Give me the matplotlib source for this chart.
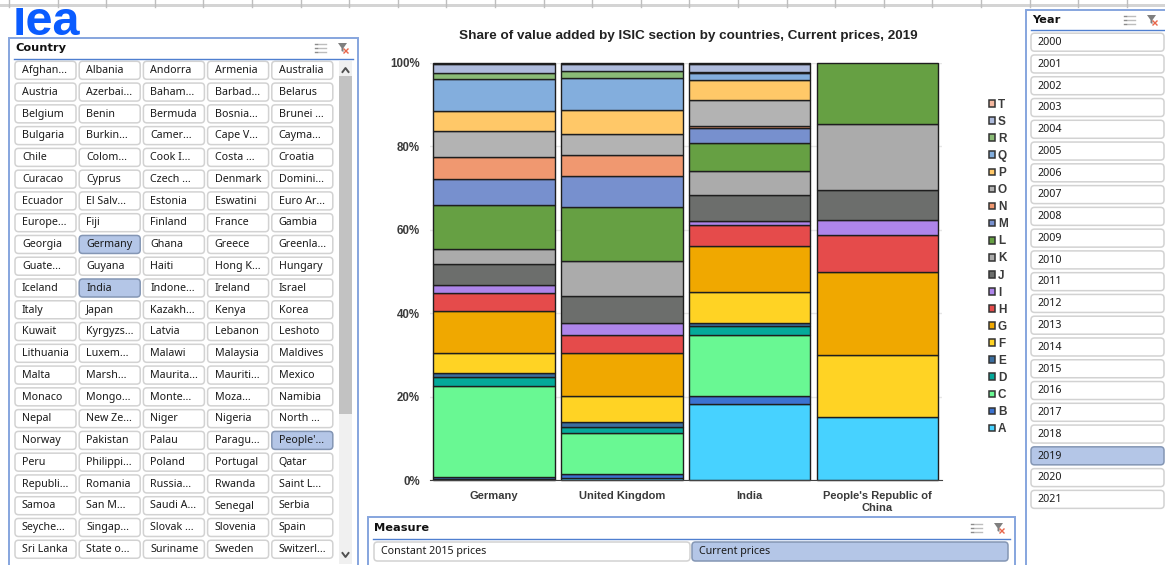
import matplotlib
matplotlib.use("Agg")
import matplotlib.pyplot as plt
from matplotlib.patches import FancyBboxPatch, Rectangle, Patch, Polygon
from matplotlib.ticker import PercentFormatter
import numpy as np

# ---- chart data: share of value added (%) by ISIC section, 2019 ----
chart_title = "Share of value added by ISIC section by countries, Current prices, 2019"
bar_labels = ["Germany", "United Kingdom", "India", "People's Republic of\nChina"]
sections = list("ABCDEFGHIJKLMNOPQRST")
A = [0.4, 0.55, 18.3, 15.2]
B = [0.3, 0.95, 1.9, 0]
C = [21.9, 9.8, 14.6, 0]
D = [2.1, 1.5, 2.1, 0]
E = [0.9, 1.2, 0.8, 0]
F = [5.0, 6.1, 7.3, 14.7]
G = [10.0, 10.4, 11.2, 19.9]
H = [4.3, 4.4, 4.9, 8.9]
I = [1.9, 2.8, 1.0, 3.7]
J = [4.9, 6.4, 6.1, 7.0]
K = [3.7, 8.3, 5.8, 15.9]
L = [10.5, 13.0, 6.8, 14.6]
M = [6.3, 7.5, 3.6, 0]
N = [5.3, 5.1, 0.4, 0]
O = [6.1, 4.9, 6.3, 0]
P = [4.9, 5.8, 4.7, 0]
Q = [7.6, 7.7, 1.8, 0]
R = [1.35, 1.6, 0.2, 0]
S = [2.15, 1.6, 1.8, 0]
T = [0.4, 0.4, 0.4, 0]
section_values = [A, B, C, D, E, F, G, H, I, J, K, L, M, N, O, P, Q, R, S, T]
section_colors = ["#47D2FF", "#3B72D1", "#69F893", "#04A99A", "#3B6E9F", "#FFD324",
                  "#F0A800", "#E54B4B", "#AE85EA", "#6C6E6C", "#ABABAB", "#66A043",
                  "#7790CE", "#F09870", "#B3B3B3", "#FFC868", "#83AEDD", "#8ABB76",
                  "#AEBBDC", "#F5B8A0"]

# ---- slicer contents ----
countries = [
    ["Afghan...", "Albania", "Andorra", "Armenia", "Australia"],
    ["Austria", "Azerbai...", "Baham...", "Barbad...", "Belarus"],
    ["Belgium", "Benin", "Bermuda", "Bosnia...", "Brunei ..."],
    ["Bulgaria", "Burkin...", "Camer...", "Cape V...", "Cayma..."],
    ["Chile", "Colom...", "Cook I...", "Costa ...", "Croatia"],
    ["Curacao", "Cyprus", "Czech ...", "Denmark", "Domini..."],
    ["Ecuador", "El Salv...", "Estonia", "Eswatini", "Euro Ar..."],
    ["Europe...", "Fiji", "Finland", "France", "Gambia"],
    ["Georgia", "Germany", "Ghana", "Greece", "Greenla..."],
    ["Guate...", "Guyana", "Haiti", "Hong K...", "Hungary"],
    ["Iceland", "India", "Indone...", "Ireland", "Israel"],
    ["Italy", "Japan", "Kazakh...", "Kenya", "Korea"],
    ["Kuwait", "Kyrgyzs...", "Latvia", "Lebanon", "Leshoto"],
    ["Lithuania", "Luxem...", "Malawi", "Malaysia", "Maldives"],
    ["Malta", "Marsh...", "Maurita...", "Mauriti...", "Mexico"],
    ["Monaco", "Mongo...", "Monte...", "Moza...", "Namibia"],
    ["Nepal", "New Ze...", "Niger", "Nigeria", "North ..."],
    ["Norway", "Pakistan", "Palau", "Paragu...", "People'..."],
    ["Peru", "Philippi...", "Poland", "Portugal", "Qatar"],
    ["Republi...", "Romania", "Russia...", "Rwanda", "Saint L..."],
    ["Samoa", "San M...", "Saudi A...", "Senegal", "Serbia"],
    ["Seyche...", "Singap...", "Slovak ...", "Slovenia", "Spain"],
    ["Sri Lanka", "State o...", "Suriname", "Sweden", "Switzerl..."],
]
selected_countries = {"Germany", "India", "People'..."}
years = [str(y) for y in range(2000, 2022)]
selected_year = "2019"
measures = ["Constant 2015 prices", "Current prices"]
selected_measure = "Current prices"

W, H_PX = 1165, 565
fig = plt.figure(figsize=(W / 100, H_PX / 100), dpi=100, facecolor="white")

# Pixel-space layer for the dashboard furniture
ui = fig.add_axes([0, 0, 1, 1], zorder=0)
ui.set_xlim(0, W)
ui.set_ylim(H_PX, 0)
ui.axis("off")

UI_FONT = "Noto Sans"
PANEL = "#86A5DE"
RULE = "#4F7FD0"
SEL_FACE = "#B4C6E7"
SEL_EDGE = "#8496B4"


def button(x, y, w, h, label, selected=False):
    ui.add_patch(FancyBboxPatch((x + 2, y + 2), w - 4, h - 4,
                                boxstyle="round,pad=2,rounding_size=3.5",
                                fc=SEL_FACE if selected else "white",
                                ec=SEL_EDGE if selected else "#D2D2D2", lw=1.1))
    ui.text(x + 7, y + h / 2 + 0.3, label, fontsize=7.7, family=UI_FONT,
            color="#1A1A1A", va="center", ha="left")


def slicer_icons(x, y):
    # multi-select glyph
    for k in range(3):
        ui.plot([x + 3, x + 11], [y - 4 + k * 4] * 2, color="#BDBDBD", lw=1)
        ui.plot([x, x + 2], [y - 4 + k * 4] * 2, color="#8C8C8C", lw=1)
    # clear-filter funnel
    fx = x + 23
    ui.add_patch(Polygon([(fx, y - 5), (fx + 9, y - 5), (fx + 5.5, y), (fx + 5.5, y + 4), (fx + 3.5, y + 3), (fx + 3.5, y)],
                         closed=True, fc="#7F7F7F", ec="none"))
    ui.plot([fx + 6, fx + 10], [y + 1, y + 5], color="#E8664A", lw=1)
    ui.plot([fx + 6, fx + 10], [y + 5, y + 1], color="#E8664A", lw=1)


def panel(x0, y0, x1, y1, title, title_x, title_y, rule_y, rule_x0, rule_x1, icon_x):
    ui.add_patch(Rectangle((x0, y0), x1 - x0, y1 - y0, fc="white", ec=PANEL, lw=1.4))
    ui.plot([rule_x0, rule_x1], [rule_y, rule_y], color=RULE, lw=1)
    ui.text(title_x, title_y, title, fontsize=8.2, family="DejaVu Sans", weight="bold",
            color="#111111", va="center", ha="left")
    slicer_icons(icon_x, title_y)


# Organisation mark, its top cut off by the sheet edge
ui.text(13, 35, "lea", fontsize=35, family="Liberation Sans", weight="bold",
        color="#0A5CFF", va="baseline", ha="left", zorder=2)
ui.add_patch(Rectangle((0, 0), 120, 8, fc="white", ec="none", zorder=3))

# Sheet ruler along the top edge
ui.add_patch(Rectangle((0, 3.5), W, 3.5, fc="#D4D4D4", ec="none", zorder=4))
for tick_x in np.arange(9, W, 48.6):
    ui.plot([tick_x, tick_x], [0, 7], color="#BEBEBE", lw=1, zorder=5)

# Country slicer
panel(9, 38, 358, 575, "Country", 15, 48, 59, 14, 353, 315)
col_step, row_step = 64.2, 21.77
for r, row in enumerate(countries):
    for c, name in enumerate(row):
        button(15 + c * col_step, 61.3 + r * row_step, 61, 18, name, name in selected_countries)
ui.add_patch(Rectangle((339, 61), 13, 503, fc="#F0F0F0", ec="none"))
ui.add_patch(Rectangle((339, 76), 13, 338, fc="#C2C2C2", ec="none"))
ui.plot([342.5, 345.5, 348.5], [72, 68, 72], color="#505050", lw=1.4)
ui.plot([342.5, 345.5, 348.5], [553, 557, 553], color="#505050", lw=1.4)

# Year slicer
panel(1026, 10, 1175, 575, "Year", 1032, 20, 30, 1031, 1164, 1124)
for i, y in enumerate(years):
    button(1031, 33.2 + i * 21.77, 133, 18, y, y == selected_year)

# Measure slicer
panel(368, 517, 1015, 575, "Measure", 374, 528, 539, 373, 1010, 971)
button(374, 542, 316, 19, measures[0], measures[0] == selected_measure)
button(692, 542, 316, 19, measures[1], measures[1] == selected_measure)

# Stacked share chart
left, right, top, bottom = 429.5, 942.0, 62.7, 480.3
ax = fig.add_axes([left / W, 1 - bottom / H_PX, (right - left) / W, (bottom - top) / H_PX],
                  zorder=1, facecolor="none")
positions = np.arange(len(bar_labels))
base = np.zeros(len(bar_labels))
for values, color in zip(section_values, section_colors):
    arr = np.array(values, dtype=float)
    shown = arr > 0
    ax.bar(positions[shown], arr[shown], bottom=base[shown], width=0.95, color=color,
           edgecolor="#1E1E1E", linewidth=1.0, zorder=3, clip_on=False)
    base += arr

ax.set_xlim(-0.505, 3.505)
ax.set_ylim(0, 100)
ax.set_yticks(np.arange(0, 101, 20))
ax.yaxis.set_major_formatter(PercentFormatter(100, decimals=0))
ax.set_xticks(positions)
ax.set_xticklabels(bar_labels, fontsize=8, family="Liberation Sans", weight="bold",
                   color="#3A3A3A", linespacing=1.2)
ax.tick_params(axis="x", length=0, pad=8)
ax.tick_params(axis="y", length=0, pad=6.8, labelsize=8.3, labelcolor="#3A3A3A")
for t in ax.get_yticklabels():
    t.set_family("Liberation Sans")
    t.set_weight("bold")
ax.grid(axis="y", color="#E6E6E6", lw=1, zorder=0)
for side in ("top", "left", "right"):
    ax.spines[side].set_visible(False)
ax.spines["bottom"].set_color("#444444")
ax.spines["bottom"].set_zorder(4)

fig.text(688.5 / W, 1 - 36 / H_PX, chart_title, fontsize=9.7, family="Liberation Sans",
         weight="bold", color="#222222", ha="center", va="center")

# Legend, top of the stack first
handles = [Patch(fc=c, ec="#333333", lw=1.1) for c in section_colors[::-1]]
leg = ax.legend(handles, sections[::-1], loc="center left", bbox_to_anchor=(989 / W, 1 - 267 / H_PX),
                bbox_transform=fig.transFigure, frameon=False, handlelength=0.5, handleheight=0.5,
                handletextpad=0.25, labelspacing=0.43, borderpad=0, borderaxespad=0,
                prop={"family": "Liberation Sans", "weight": "bold", "size": 8.5})
for t in leg.get_texts():
    t.set_color("#3A3A3A")

fig.savefig("out.png", dpi=100, facecolor="white")
